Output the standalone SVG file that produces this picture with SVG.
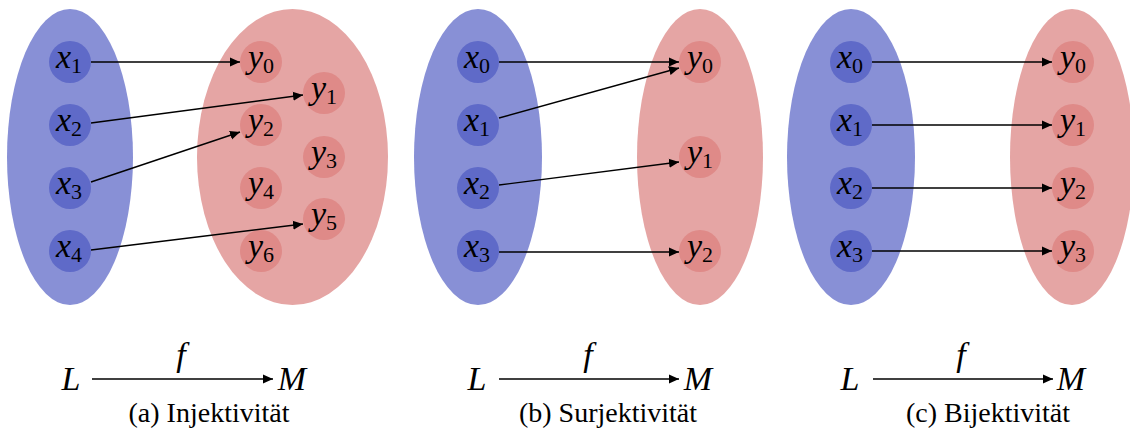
<svg xmlns="http://www.w3.org/2000/svg" width="1130" height="439" viewBox="0 0 1130 439">
<defs>
<marker id="ah" viewBox="0 0 10 10" refX="10" refY="5" markerWidth="10" markerHeight="10" markerUnits="userSpaceOnUse" orient="auto">
<path d="M0,0.5 L10,5 L0,9.5 Z" fill="#000"/>
</marker>
<style>
.setL{fill:#8890d6}
.setR{fill:#e5a5a4}
.nL{fill:#5f6ac8}
.nR{fill:#df8a88}
.lbl{font-family:'Liberation Serif',serif;font-size:34px;fill:#000}
.it{font-style:italic}
.sub{font-size:22px;font-style:normal}
.cap{font-family:'Liberation Serif',serif;font-size:28px;fill:#000}
.conn line{stroke:#000;stroke-width:1.4;marker-end:url(#ah)}
</style>
</defs>
<rect width="1130" height="439" fill="#fff"/>

<!-- Panel a -->
<g id="a-sets">
<ellipse class="setL" cx="70" cy="157" rx="63" ry="148"/>
<ellipse class="setR" cx="292.5" cy="157" rx="95.5" ry="148"/>
</g>
<g id="a-x1"><circle class="nL" cx="70" cy="62" r="21"/><text class="lbl" x="69" y="68" text-anchor="middle"><tspan class="it">x</tspan><tspan class="sub" dy="5">1</tspan></text></g>
<g id="a-x2"><circle class="nL" cx="70" cy="125" r="21"/><text class="lbl" x="69" y="131" text-anchor="middle"><tspan class="it">x</tspan><tspan class="sub" dy="5">2</tspan></text></g>
<g id="a-x3"><circle class="nL" cx="70" cy="188" r="21"/><text class="lbl" x="69" y="194" text-anchor="middle"><tspan class="it">x</tspan><tspan class="sub" dy="5">3</tspan></text></g>
<g id="a-x4"><circle class="nL" cx="70" cy="251" r="21"/><text class="lbl" x="69" y="257" text-anchor="middle"><tspan class="it">x</tspan><tspan class="sub" dy="5">4</tspan></text></g>
<g id="a-y0"><circle class="nR" cx="261" cy="62" r="21"/><text class="lbl" x="261" y="68" text-anchor="middle"><tspan class="it">y</tspan><tspan class="sub" dy="5">0</tspan></text></g>
<g id="a-y1"><circle class="nR" cx="324" cy="93" r="21"/><text class="lbl" x="324" y="99" text-anchor="middle"><tspan class="it">y</tspan><tspan class="sub" dy="5">1</tspan></text></g>
<g id="a-y2"><circle class="nR" cx="261" cy="125" r="21"/><text class="lbl" x="261" y="131" text-anchor="middle"><tspan class="it">y</tspan><tspan class="sub" dy="5">2</tspan></text></g>
<g id="a-y3"><circle class="nR" cx="324" cy="157" r="21"/><text class="lbl" x="324" y="163" text-anchor="middle"><tspan class="it">y</tspan><tspan class="sub" dy="5">3</tspan></text></g>
<g id="a-y4"><circle class="nR" cx="261" cy="188" r="21"/><text class="lbl" x="261" y="194" text-anchor="middle"><tspan class="it">y</tspan><tspan class="sub" dy="5">4</tspan></text></g>
<g id="a-y5"><circle class="nR" cx="324" cy="219" r="21"/><text class="lbl" x="324" y="225" text-anchor="middle"><tspan class="it">y</tspan><tspan class="sub" dy="5">5</tspan></text></g>
<g id="a-y6"><circle class="nR" cx="261" cy="251" r="21"/><text class="lbl" x="261" y="257" text-anchor="middle"><tspan class="it">y</tspan><tspan class="sub" dy="5">6</tspan></text></g>

<!-- Panel b -->
<g id="b-sets">
<ellipse class="setL" cx="478" cy="157" rx="64" ry="148"/>
<ellipse class="setR" cx="700" cy="157" rx="63" ry="148"/>
</g>
<g id="b-x0"><circle class="nL" cx="478" cy="62" r="21"/><text class="lbl" x="477" y="68" text-anchor="middle"><tspan class="it">x</tspan><tspan class="sub" dy="5">0</tspan></text></g>
<g id="b-x1"><circle class="nL" cx="478" cy="125" r="21"/><text class="lbl" x="477" y="131" text-anchor="middle"><tspan class="it">x</tspan><tspan class="sub" dy="5">1</tspan></text></g>
<g id="b-x2"><circle class="nL" cx="478" cy="188" r="21"/><text class="lbl" x="477" y="194" text-anchor="middle"><tspan class="it">x</tspan><tspan class="sub" dy="5">2</tspan></text></g>
<g id="b-x3"><circle class="nL" cx="478" cy="251" r="21"/><text class="lbl" x="477" y="257" text-anchor="middle"><tspan class="it">x</tspan><tspan class="sub" dy="5">3</tspan></text></g>
<g id="b-y0"><circle class="nR" cx="700" cy="62" r="21"/><text class="lbl" x="700" y="68" text-anchor="middle"><tspan class="it">y</tspan><tspan class="sub" dy="5">0</tspan></text></g>
<g id="b-y1"><circle class="nR" cx="700" cy="157" r="21"/><text class="lbl" x="700" y="163" text-anchor="middle"><tspan class="it">y</tspan><tspan class="sub" dy="5">1</tspan></text></g>
<g id="b-y2"><circle class="nR" cx="700" cy="251" r="21"/><text class="lbl" x="700" y="257" text-anchor="middle"><tspan class="it">y</tspan><tspan class="sub" dy="5">2</tspan></text></g>

<!-- Panel c -->
<g id="c-sets">
<ellipse class="setL" cx="851" cy="157" rx="64" ry="148"/>
<ellipse class="setR" cx="1072" cy="157" rx="62" ry="148"/>
</g>
<g id="c-x0"><circle class="nL" cx="851" cy="62" r="21"/><text class="lbl" x="850" y="68" text-anchor="middle"><tspan class="it">x</tspan><tspan class="sub" dy="5">0</tspan></text></g>
<g id="c-x1"><circle class="nL" cx="851" cy="125" r="21"/><text class="lbl" x="850" y="131" text-anchor="middle"><tspan class="it">x</tspan><tspan class="sub" dy="5">1</tspan></text></g>
<g id="c-x2"><circle class="nL" cx="851" cy="188" r="21"/><text class="lbl" x="850" y="194" text-anchor="middle"><tspan class="it">x</tspan><tspan class="sub" dy="5">2</tspan></text></g>
<g id="c-x3"><circle class="nL" cx="851" cy="251" r="21"/><text class="lbl" x="850" y="257" text-anchor="middle"><tspan class="it">x</tspan><tspan class="sub" dy="5">3</tspan></text></g>
<g id="c-y0"><circle class="nR" cx="1073" cy="62" r="21"/><text class="lbl" x="1073" y="68" text-anchor="middle"><tspan class="it">y</tspan><tspan class="sub" dy="5">0</tspan></text></g>
<g id="c-y1"><circle class="nR" cx="1073" cy="125" r="21"/><text class="lbl" x="1073" y="131" text-anchor="middle"><tspan class="it">y</tspan><tspan class="sub" dy="5">1</tspan></text></g>
<g id="c-y2"><circle class="nR" cx="1073" cy="188" r="21"/><text class="lbl" x="1073" y="194" text-anchor="middle"><tspan class="it">y</tspan><tspan class="sub" dy="5">2</tspan></text></g>
<g id="c-y3"><circle class="nR" cx="1073" cy="251" r="21"/><text class="lbl" x="1073" y="257" text-anchor="middle"><tspan class="it">y</tspan><tspan class="sub" dy="5">3</tspan></text></g>

<!-- connectors -->
<g id="connectors" class="conn">
<line x1="91" y1="62" x2="240" y2="62"/>
<line x1="91" y1="123" x2="303" y2="95"/>
<line x1="91" y1="182" x2="240" y2="132"/>
<line x1="91" y1="250" x2="303" y2="224"/>
<line x1="499" y1="62" x2="679" y2="62"/>
<line x1="499" y1="118" x2="679" y2="68"/>
<line x1="499" y1="185" x2="679" y2="162"/>
<line x1="499" y1="252" x2="679" y2="252"/>
<line x1="872" y1="62" x2="1052" y2="62"/>
<line x1="872" y1="125" x2="1052" y2="125"/>
<line x1="872" y1="188" x2="1052" y2="188"/>
<line x1="872" y1="251" x2="1052" y2="251"/>
<line x1="92" y1="379" x2="273" y2="379"/>
<line x1="499" y1="379" x2="679" y2="379"/>
<line x1="873" y1="379" x2="1053" y2="379"/>
</g>

<!-- bottom labels -->
<g id="a-map">
<text class="lbl it" x="71" y="390" text-anchor="middle">L</text>
<text class="lbl it" x="292" y="390" text-anchor="middle">M</text>
<text class="lbl it" x="181" y="366" text-anchor="middle">f</text>
<text class="cap" x="209" y="422" text-anchor="middle">(a) Injektivität</text>
</g>
<g id="b-map">
<text class="lbl it" x="477" y="390" text-anchor="middle">L</text>
<text class="lbl it" x="698" y="390" text-anchor="middle">M</text>
<text class="lbl it" x="588" y="366" text-anchor="middle">f</text>
<text class="cap" x="608" y="422" text-anchor="middle">(b) Surjektivität</text>
</g>
<g id="c-map">
<text class="lbl it" x="850" y="390" text-anchor="middle">L</text>
<text class="lbl it" x="1071" y="390" text-anchor="middle">M</text>
<text class="lbl it" x="961" y="366" text-anchor="middle">f</text>
<text class="cap" x="988" y="422" text-anchor="middle">(c) Bijektivität</text>
</g>
</svg>
